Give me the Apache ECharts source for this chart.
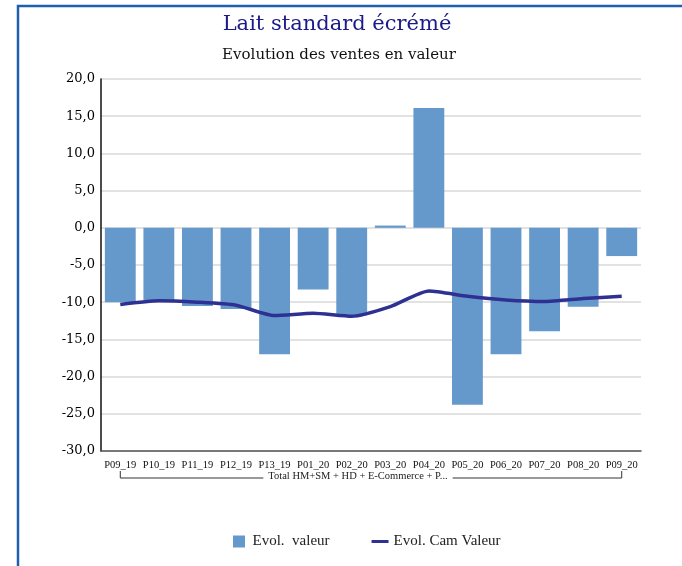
<!DOCTYPE html>
<html>
<head>
<meta charset="utf-8">
<script src="https://cdn.jsdelivr.net/npm/echarts@6/dist/echarts.min.js"></script>
<style>
  html, body { margin: 0; padding: 0; background: #fff; }
  #chart { width: 682px; height: 566px; }
</style>
</head>
<body>
<div id="chart"></div>
<script>
// Periods (4-week periods, 2019-2020)
const categories = ['P09_19', 'P10_19', 'P11_19', 'P12_19', 'P13_19', 'P01_20', 'P02_20',
  'P03_20', 'P04_20', 'P05_20', 'P06_20', 'P07_20', 'P08_20', 'P09_20'];

// Evolution of sales value per period (%)
const evolValeur = [-10.0, -9.7, -10.5, -10.9, -17.0, -8.3, -11.8,
  0.3, 16.1, -23.8, -17.0, -13.9, -10.6, -3.8];

// Cumulative annual moving evolution (%)
const evolCamValeur = [-10.3, -9.8, -10.0, -10.4, -11.8, -11.5, -11.9,
  -10.6, -8.5, -9.2, -9.7, -9.9, -9.5, -9.2];

const groupLabel = 'Total HM+SM + HD + E-Commerce + P...';
const serif = '"Liberation Serif", "DejaVu Serif", serif';
const wideSerif = '"DejaVu Serif", serif';

const chart = echarts.init(document.getElementById('chart'));

const option = {
  animation: false,
  backgroundColor: '#ffffff',
  title: [
    {
      text: 'Lait standard écrémé',
      left: 332, top: 9, textAlign: 'center',
      textStyle: { fontFamily: wideSerif, fontSize: 21, fontWeight: 'normal', color: '#1a1a8a' }
    },
    {
      text: 'Evolution des ventes en valeur',
      left: 334, top: 43, textAlign: 'center',
      textStyle: { fontFamily: wideSerif, fontSize: 15, fontWeight: 'normal', color: '#111' }
    }
  ],
  legend: {
    left: 228, top: 529,
    itemGap: 42,
    itemWidth: 17, itemHeight: 12,
    textStyle: { fontFamily: serif, fontSize: 15, color: '#222' },
    data: [
      { name: 'Evol.  valeur', icon: 'path://M0,0H12V12H0Z' },
      { name: 'Evol. Cam Valeur', icon: 'path://M0,0H17V3H0Z' }
    ]
  },
  grid: { left: 101, right: 41, top: 79, bottom: 115, containLabel: false },
  xAxis: {
    type: 'category',
    data: categories,
    axisTick: { show: false },
    axisLine: { onZero: false, lineStyle: { color: '#555', width: 1.5 } },
    axisLabel: {
      interval: 0, margin: 9,
      fontFamily: serif, fontSize: 10.5, color: '#111'
    }
  },
  yAxis: {
    type: 'value',
    min: -30, max: 20, interval: 5,
    axisLine: { show: true, lineStyle: { color: '#111', width: 1.5 } },
    axisTick: { show: false },
    splitLine: { lineStyle: { color: '#d9d9d9', width: 1.5 } },
    axisLabel: {
      margin: 6,
      fontFamily: wideSerif, fontSize: 13, color: '#000',
      formatter: v => v.toFixed(1).replace('.', ',')
    }
  },
  series: [
    {
      name: 'Evol.  valeur',
      type: 'bar',
      data: evolValeur,
      barCategoryGap: '20%',
      itemStyle: { color: '#6699cb' }
    },
    {
      name: 'Evol. Cam Valeur',
      type: 'line',
      data: evolCamValeur,
      smooth: 0.2,
      symbol: 'none',
      lineStyle: { color: '#2e3192', width: 3.5 },
      itemStyle: { color: '#2e3192' }
    }
  ]
};

chart.setOption(option);

// Frame and grouped-category bracket under the axis labels
const xL = chart.convertToPixel({ xAxisIndex: 0 }, categories[0]);
const xR = chart.convertToPixel({ xAxisIndex: 0 }, categories[categories.length - 1]);
const yTop = 471, yBar = 478;
const txtCenter = (xL + xR) / 2 - 13;

chart.setOption({
  graphic: [
    {
      type: 'polyline', silent: true,
      shape: { points: [[18, 600], [18, 6], [700, 6]] },
      style: { stroke: '#1f5fae', lineWidth: 2.5, fill: null }
    },
    {
      type: 'polyline', silent: true,
      shape: { points: [[xL, yTop], [xL, yBar], [xR, yBar], [xR, yTop]] },
      style: { stroke: '#333', lineWidth: 1, fill: null }
    },
    {
      type: 'text', silent: true,
      x: txtCenter, y: yBar - 2,
      style: {
        text: groupLabel, align: 'center', verticalAlign: 'middle',
        font: '10.5px ' + serif, fill: '#222',
        backgroundColor: '#fff', padding: [0, 5]
      }
    }
  ]
});
</script>
</body>
</html>
